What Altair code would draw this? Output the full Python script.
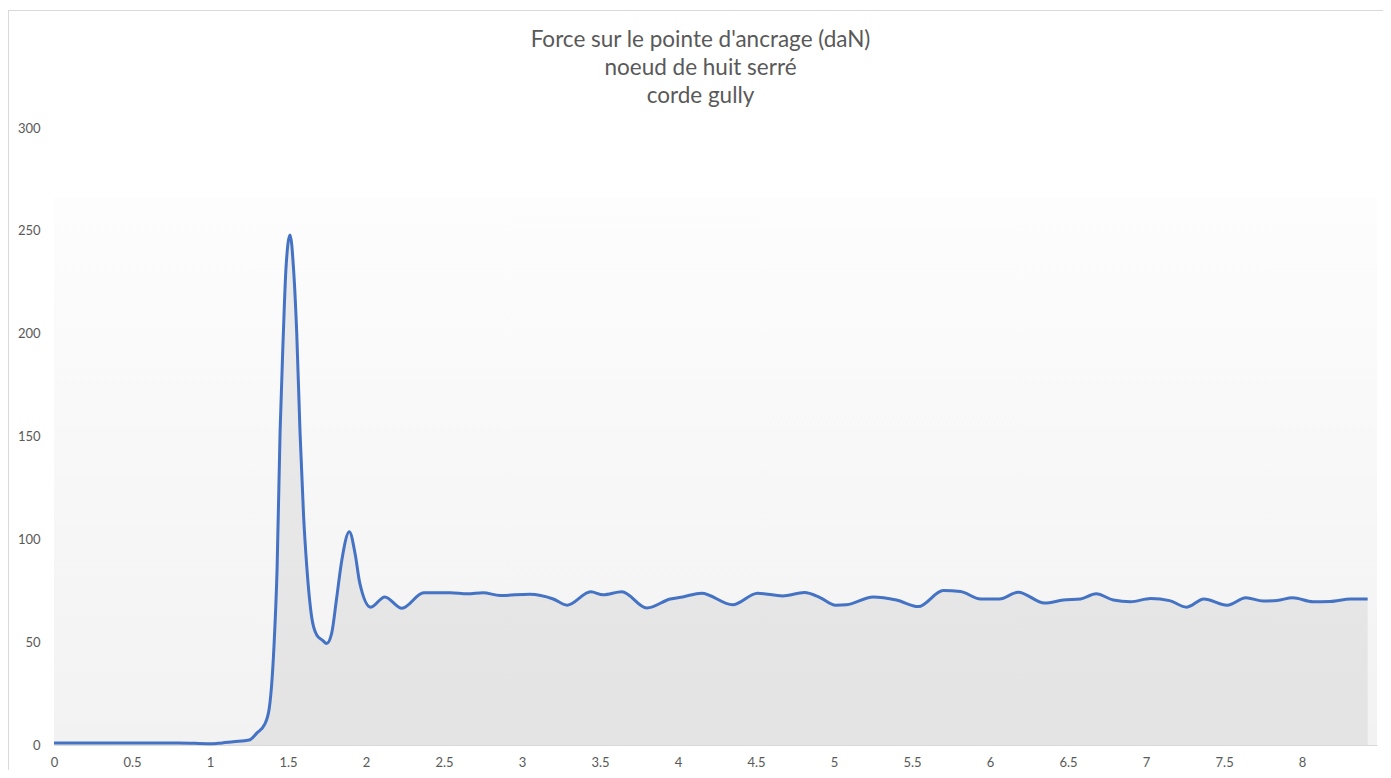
import altair as alt
import pandas as pd

# ---- data ----
time_s = [0, 0.2, 0.5, 0.8, 1.0, 1.05, 1.15, 1.25, 1.30, 1.35, 1.38,
          1.41, 1.43, 1.449, 1.47, 1.487, 1.513, 1.535, 1.556, 1.577, 1.60,
          1.62, 1.652, 1.684, 1.72, 1.748, 1.78, 1.81, 1.845, 1.893, 1.93,
          1.96, 2.03, 2.12, 2.23, 2.37, 2.54, 2.65, 2.75, 2.86, 3.05, 3.2,
          3.29, 3.44, 3.52, 3.64, 3.80, 3.95, 4.03, 4.15, 4.35, 4.51, 4.67,
          4.81, 4.91, 5.01, 5.08, 5.25, 5.40, 5.54, 5.70, 5.81, 5.94, 6.06,
          6.18, 6.35, 6.47, 6.58, 6.68, 6.79, 6.90, 7.03, 7.15, 7.26, 7.37,
          7.52, 7.64, 7.75, 7.84, 7.94, 8.07, 8.18, 8.31, 8.42]
force_dan = [1, 1, 1, 1, 0.6, 0.8, 1.6, 2.4, 5.8, 10, 18,
             48, 86, 152, 200, 232, 248, 232, 200, 152, 111,
             87, 62, 53.5, 51, 49.4, 54.4, 70.5, 90, 103.7, 93,
             78.7, 67, 72, 66.5, 74, 74, 73.5, 74, 72.7, 73.3, 71,
             68, 74.5, 73, 74.5, 66.6, 71, 72, 73.8, 68.2, 73.8, 72.5,
             74.1, 71.7, 68, 68.2, 72, 70.5, 67.3, 75.1, 74.6, 71, 71,
             74.3, 69, 70.5, 71, 73.5, 70.5, 69.7, 71.2, 70.2, 67, 71,
             68, 71.6, 70, 70.3, 71.6, 69.7, 69.8, 71, 71]
x_ticks = [0, 0.5, 1, 1.5, 2, 2.5, 3, 3.5, 4, 4.5, 5, 5.5, 6, 6.5, 7, 7.5, 8]
y_ticks = [0, 50, 100, 150, 200, 250, 300]
title_lines = ["Force sur le pointe d'ancrage (daN)", "noeud de huit serré", "corde gully"]

X_MAX = 8.48
Y_MAX = 300

df = pd.DataFrame({"t": time_s, "f": force_dan})
bg = pd.DataFrame({"t": [0], "t2": [X_MAX], "f": [0], "f2": [266]})

txt = "#595959"
font = "Lato"

xs = alt.Scale(domain=[0, X_MAX], nice=False, zero=False)
ys = alt.Scale(domain=[0, Y_MAX], nice=False)

x_axis = alt.Axis(values=x_ticks, format=".1~f", title=None, grid=False, ticks=False,
                  domain=True, domainColor="#d9d9d9", domainWidth=1,
                  labelColor=txt, labelFont=font, labelFontSize=13, labelPadding=11,
                  labelFlush=False, labelOverlap=False)
y_axis = alt.Axis(values=y_ticks, title=None, grid=False, ticks=False, domain=False,
                  labelColor=txt, labelFont=font, labelFontSize=13, labelPadding=14,
                  labelAlign="right", labelBaseline="middle")

X = alt.X("t:Q", scale=xs, axis=x_axis)
Y = alt.Y("f:Q", scale=ys, axis=y_axis)

background = alt.Chart(bg).mark_rect(
    fill=alt.Gradient(
        gradient="linear", x1=0, y1=0, x2=0, y2=1,
        stops=[alt.GradientStop(color="#fdfdfd", offset=0),
               alt.GradientStop(color="#f2f2f2", offset=1)],
    ),
    strokeWidth=0,
).encode(x=X, x2="t2:Q", y=Y, y2="f2:Q")

# chart frame (top and left edges visible in the window)
frame_top = alt.Chart(bg).mark_rule(color="#d9d9d9", strokeWidth=1).encode(
    x=alt.value(-46), x2=alt.value(1400), y=alt.value(-117.5)
)
frame_left = alt.Chart(bg).mark_rule(color="#d9d9d9", strokeWidth=1).encode(
    x=alt.value(-45.5), y=alt.value(-117.5), y2=alt.value(700)
)

area = alt.Chart(df).mark_area(color="#c4c4c4", opacity=0.3, interpolate="monotone").encode(
    x=X, y=Y,
)

line = alt.Chart(df).mark_line(color="#4472C4", strokeWidth=3, interpolate="monotone").encode(
    x=X, y=Y,
)

chart = alt.layer(background, frame_top, frame_left, area, line).properties(
    width=1323,
    height=617,
    background="white",
    autosize=alt.AutoSizeParams(type="none"),
    padding={"left": 46, "top": 120, "right": 6, "bottom": 25},
    title=alt.TitleParams(
        text=title_lines, font=font, fontSize=22.5, fontWeight="normal", color=txt,
        anchor="middle", frame="group", dx=-15, offset=-97, lineHeight=28,
    ),
).configure_view(stroke="transparent", strokeWidth=0)

chart.save("out.html", embed_options={"renderer": "svg", "actions": False})
